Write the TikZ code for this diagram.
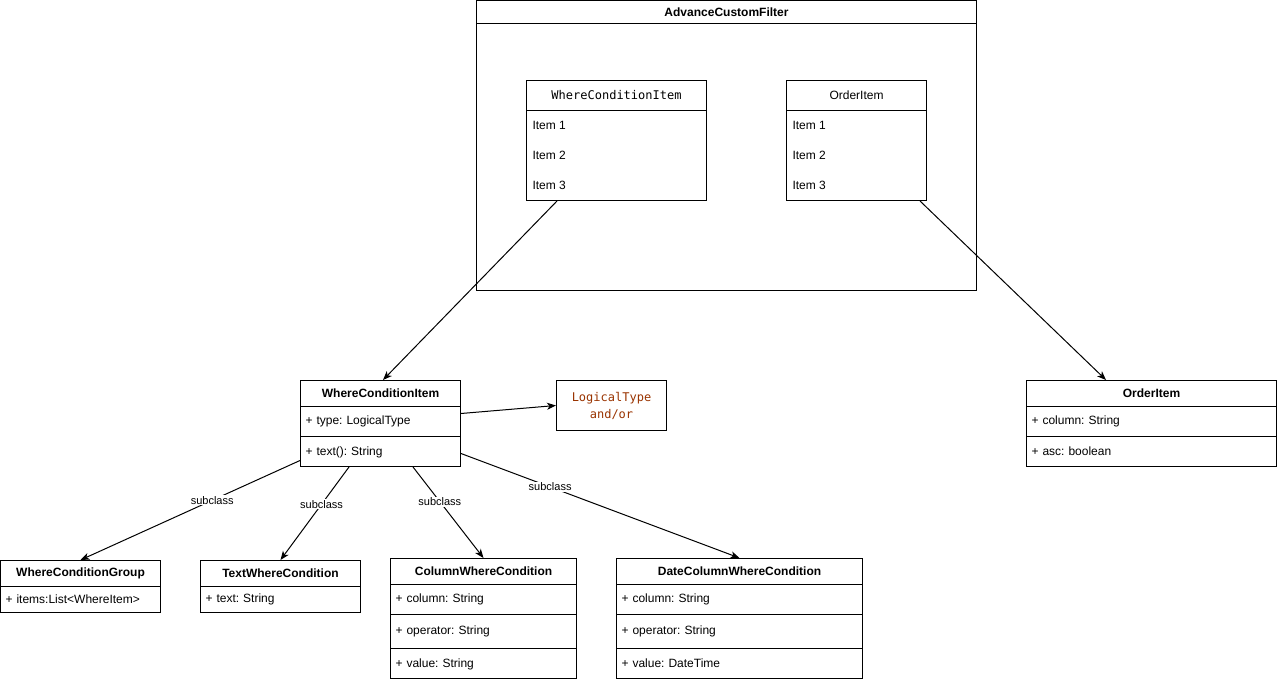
\documentclass[tikz,border=0pt]{standalone}
\usepackage{fontspec}
\setmainfont{Liberation Sans}
\newfontfamily\monofont{DejaVu Sans Mono}
\usetikzlibrary{arrows.meta}
\definecolor{typebrown}{HTML}{993300}
\frenchspacing

\begin{document}
\begin{tikzpicture}[x=1pt,y=-1pt,line width=1pt,
	every node/.style={font=\fontsize{12}{14}\selectfont},
	head_node/.style={draw,anchor=north west,inner sep=0pt,minimum height=26pt,font=\fontsize{12}{14}\selectfont\bfseries},
	field_node/.style={draw,anchor=north west,inner xsep=5pt,inner ysep=0pt,align=left},
	box_node/.style={draw,anchor=north west,inner sep=0pt},
	item_node/.style={anchor=west,inner sep=0pt},
	sub_label/.style={fill=white,inner sep=1pt,font=\fontsize{11}{13}\selectfont},
	link_edge/.style={-{Stealth[length=9pt,width=7pt,inset=2.5pt]}}]
		
		\useasboundingbox (0,0) rectangle (1277,682);
		
		% container
		\node[head_node,minimum width=500pt,minimum height=23pt] (acf) at (476,0) {AdvanceCustomFilter};
		\node[box_node,minimum width=500pt,minimum height=267pt] (acfbody) at (476,23) {};
		
		\node[box_node,minimum width=180pt,minimum height=30pt,font=\fontsize{12}{14}\monofont] (mwci) at (526,80) {WhereConditionItem};
		\node[box_node,minimum width=180pt,minimum height=90pt] (mwcib) at (526,110) {};
		\node[item_node] (mwci1) at (532,125) {Item 1};
		\node[item_node] (mwci2) at (532,155) {Item 2};
		\node[item_node] (mwci3) at (532,185) {Item 3};
		
		\node[box_node,minimum width=140pt,minimum height=30pt] (moi) at (786,80) {OrderItem};
		\node[box_node,minimum width=140pt,minimum height=90pt] (moib) at (786,110) {};
		\node[item_node] (moi1) at (792,125) {Item 1};
		\node[item_node] (moi2) at (792,155) {Item 2};
		\node[item_node] (moi3) at (792,185) {Item 3};
		
		% classes
		\node[head_node,minimum width=160pt] (wci) at (300,380) {WhereConditionItem};
		\node[field_node,text width=150pt,minimum height=30pt] (wcif) at (300,406) {+ type: LogicalType};
		\node[field_node,text width=150pt,minimum height=30pt,text depth=-2pt] (wcim) at (300,436) {+ text(): String};
		
		\node[box_node,minimum width=110pt,minimum height=50pt,align=center,text=typebrown,font=\fontsize{12}{17}\monofont] (lt) at (556,380) {LogicalType\\and/or};
		
		\node[head_node,minimum width=250pt] (oi) at (1026,380) {OrderItem};
		\node[field_node,text width=240pt,minimum height=30pt] (oif1) at (1026,406) {+ column: String};
		\node[field_node,text width=240pt,minimum height=30pt,text depth=-2pt] (oif2) at (1026,436) {+ asc: boolean};
		
		\node[head_node,minimum width=160pt] (wcg) at (0,560) {WhereConditionGroup};
		\node[field_node,text width=150pt,minimum height=26pt] (wcgf) at (0,586) {+ items:List<WhereItem>};
		
		\node[head_node,minimum width=160pt] (twc) at (200,560) {TextWhereCondition};
		\node[field_node,text width=150pt,minimum height=26pt] (twcf) at (200,586) {+ text: String};
		
		\node[head_node,minimum width=186pt] (cwc) at (390,558) {ColumnWhereCondition};
		\node[field_node,text width=176pt,minimum height=30pt] (cwcf1) at (390,584) {+ column: String};
		\node[field_node,text width=176pt,minimum height=34pt] (cwcf2) at (390,614) {+ operator: String};
		\node[field_node,text width=176pt,minimum height=30pt,text depth=-2pt] (cwcf3) at (390,648) {+ value: String};
		
		\node[head_node,minimum width=246pt] (dcwc) at (616,558) {DateColumnWhereCondition};
		\node[field_node,text width=236pt,minimum height=30pt] (dcwcf1) at (616,584) {+ column: String};
		\node[field_node,text width=236pt,minimum height=34pt] (dcwcf2) at (616,614) {+ operator: String};
		\node[field_node,text width=236pt,minimum height=30pt,text depth=-2pt] (dcwcf3) at (616,648) {+ value: DateTime};
		
		% links
		\draw[link_edge] ([xshift=31pt]mwcib.south west) -- ([xshift=83pt]wci.north west);
		\draw[link_edge] ([xshift=-7pt]moib.south east) -- ([xshift=80pt]oi.north west);
		\draw[link_edge] ([yshift=8pt]wcif.east) -- (lt.west);
		\draw[link_edge] ([yshift=-9pt]wcim.west) -- node[sub_label,pos=0.4] {subclass} (wcg.north);
		\draw[link_edge] ([xshift=49pt]wcim.south west) -- node[sub_label,pos=0.4] {subclass} (twc.north);
		\draw[link_edge] ([xshift=113pt]wcim.south west) -- node[sub_label,pos=0.38] {subclass} (cwc.north);
		\draw[link_edge] ([yshift=-2pt]wcim.east) -- node[sub_label,pos=0.32] {subclass} (dcwc.north);
		\end{tikzpicture}
\end{document}
